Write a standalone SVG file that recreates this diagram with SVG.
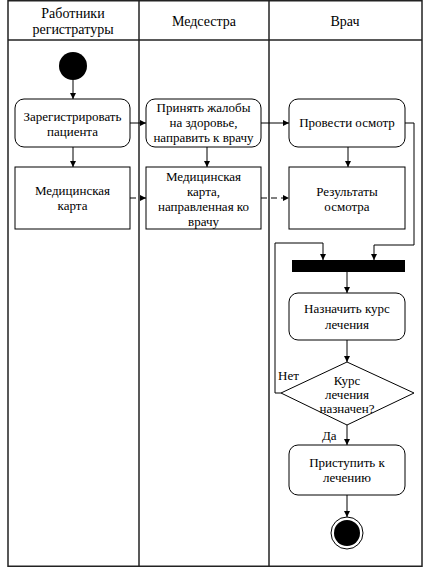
<svg xmlns="http://www.w3.org/2000/svg" width="425" height="567" viewBox="0 0 425 567">
<defs>
<marker id="ah" viewBox="0 0 6 6" refX="6" refY="3" markerWidth="6" markerHeight="6" markerUnits="userSpaceOnUse" orient="auto">
<path d="M0,0 L6,3 L0,6 z" fill="#000"/>
</marker>
</defs>
<style>
text{font-family:"Liberation Serif","Times New Roman",serif;font-size:13px;fill:#000;text-anchor:middle}
.hd{font-size:14px}
.lane{fill:none;stroke:#222;stroke-width:1.5}
.act{fill:#fff;stroke:#000;stroke-width:1}
.obj{fill:#fff;stroke:#000;stroke-width:1}
.c{fill:none;stroke:#000;stroke-width:1;marker-end:url(#ah)}
.d{stroke-dasharray:6,4}
.lbl{text-anchor:start}
</style>
<rect width="425" height="567" fill="#fff"/>
<g id="lanes">
<rect class="lane" x="8" y="0.75" width="414" height="565.5"/>
<line class="lane" x1="8" y1="40" x2="422" y2="40" stroke="#666"/>
<line class="lane" x1="139" y1="0" x2="139" y2="566"/>
<line class="lane" x1="269" y1="0" x2="269" y2="566"/>
<text class="hd" x="73" y="18">Работники</text>
<text class="hd" x="73" y="34">регистратуры</text>
<text class="hd" x="204" y="26">Медсестра</text>
<text class="hd" x="345" y="26">Врач</text>
</g>
<g id="connectors">
<path class="c" d="M73,80 V99"/>
<path class="c" d="M130,123 H146"/>
<path class="c" d="M261,123 H289"/>
<path class="c" d="M73,147 V167"/>
<path class="c" d="M207,147 V167"/>
<path class="c" d="M348,147 V167"/>
<path class="c d" d="M130,198 H146"/>
<path class="c d" d="M261,198 H289"/>
<path class="c" d="M405,123 H414 V245 H374 V260"/>
<path class="c" d="M281,393 H275 V243 H323 V260"/>
<path class="c" d="M347,272 V293"/>
<path class="c" d="M347,340 V362"/>
<path class="c" d="M347,425 V445"/>
<path class="c" d="M347,495 V517"/>
<text class="lbl" x="278" y="380">Нет</text>
<text class="lbl" x="322" y="440">Да</text>
</g>
<g id="start"><circle cx="73" cy="66" r="14" fill="#000"/></g>
<g id="register">
<rect class="act" x="15" y="99" width="115" height="48" rx="9"/>
<text x="72.5" y="121">Зарегистрировать</text>
<text x="72.5" y="136">пациента</text>
</g>
<g id="accept">
<rect class="act" x="146" y="99" width="115" height="48" rx="9"/>
<text x="203.5" y="112">Принять жалобы</text>
<text x="203.5" y="127">на здоровье,</text>
<text x="203.5" y="142">направить к врачу</text>
</g>
<g id="exam">
<rect class="act" x="289" y="99" width="116" height="48" rx="9"/>
<text x="347" y="127">Провести осмотр</text>
</g>
<g id="card">
<rect class="obj" x="15" y="167" width="115" height="62"/>
<text x="72.5" y="195">Медицинская</text>
<text x="72.5" y="210">карта</text>
</g>
<g id="card2">
<rect class="obj" x="146" y="167" width="115" height="62"/>
<text x="203.5" y="181">Медицинская</text>
<text x="203.5" y="196">карта,</text>
<text x="203.5" y="211">направленная ко</text>
<text x="203.5" y="226">врачу</text>
</g>
<g id="results">
<rect class="obj" x="289" y="167" width="116" height="62"/>
<text x="347" y="196">Результаты</text>
<text x="347" y="211">осмотра</text>
</g>
<g id="join"><rect x="292" y="260" width="113" height="12" fill="#000"/></g>
<g id="assign">
<rect class="act" x="289" y="293" width="116" height="47" rx="9"/>
<text x="347" y="313">Назначить курс</text>
<text x="347" y="329">лечения</text>
</g>
<g id="decision">
<polygon class="act" points="347,362 414,393 347,425 281,393"/>
<text x="347" y="385">Курс</text>
<text x="347" y="399">лечения</text>
<text x="347" y="413">назначен?</text>
</g>
<g id="proceed">
<rect class="act" x="289" y="445" width="116" height="50" rx="9"/>
<text x="347" y="467">Приступить к</text>
<text x="347" y="482">лечению</text>
</g>
<g id="end">
<circle cx="347" cy="533" r="16" fill="#fff" stroke="#000" stroke-width="1"/>
<circle cx="347" cy="533" r="13" fill="#000"/>
</g>
</svg>
